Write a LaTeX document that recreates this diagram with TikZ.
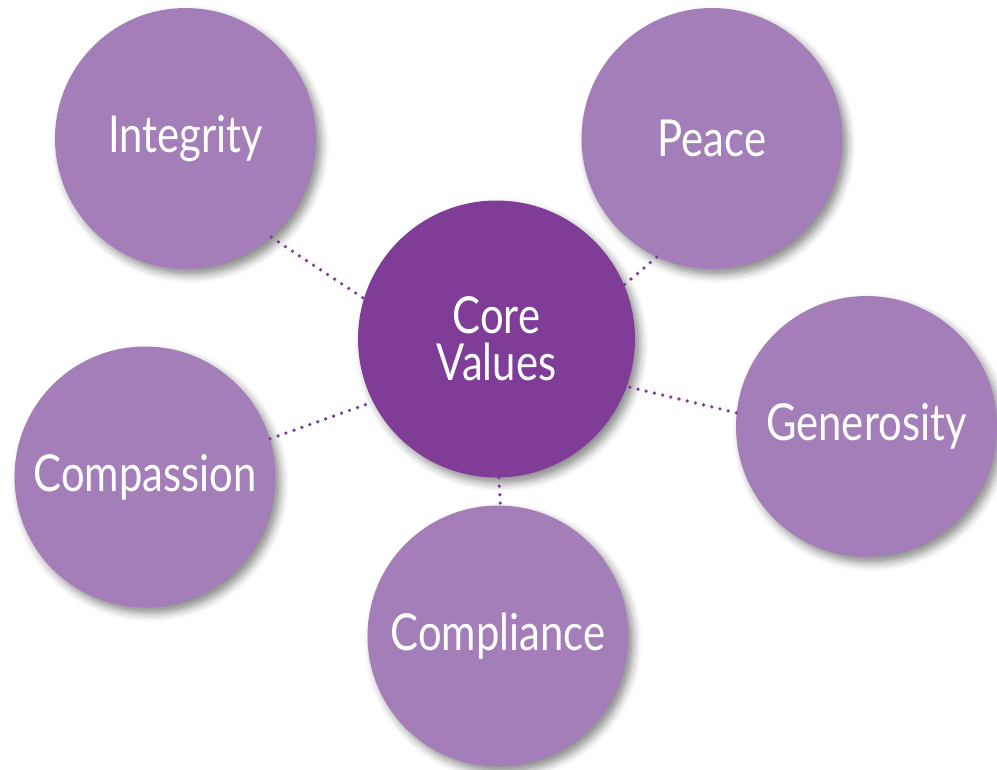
\documentclass[tikz,border=0pt]{standalone}
\usepackage{fontspec}
\setmainfont{Lato}
\usetikzlibrary{shadows.blur}
\definecolor{lightplum}{HTML}{A47EB8}
\definecolor{darkplum}{HTML}{7F3D97}
\newcommand\narrow[1]{\scalebox{0.82}[1]{#1}}

\begin{document}
\begin{tikzpicture}[x=0.02cm, y=-0.02cm,
  value/.style={circle, fill=lightplum, minimum size=5.22cm, inner sep=0pt, text=white,
    font=\fontsize{29}{27}\selectfont,
    blur shadow={shadow xshift=0.1cm, shadow yshift=-0.12cm, shadow blur radius=0.16cm, shadow opacity=45}},
  core/.style={value, fill=darkplum, minimum size=5.54cm, align=center},
  link/.style={darkplum, line width=2.1pt, line cap=round, dash pattern=on 0pt off 4.8pt}]
\useasboundingbox (0,0) rectangle (997,769);
% the five values round the centre
\node[core] (core) at (496.5,339) {\narrow{Core}\\\narrow{Values}};
\node[value] (integrity) at (185.5,138.5) {\narrow{Integrity}};
\node[value] (peace) at (712,138.5) {\narrow{Peace}};
\node[value] (compassion) at (145,477) {\narrow{Compassion}};
\node[value] (generosity) at (866.5,426.5) {\narrow{Generosity}};
\node[value] (compliance) at (498,636) {\narrow{Compliance}};
% dotted links
\draw[link] (integrity.-49) -- (core.163);
\draw[link] (peace.-115) -- (core.23);
\draw[link] (compassion.17) -- (core.207);
\draw[link] (generosity.174) -- (core.-20);
\draw[link] (core.-89) -- (compliance.89);
\end{tikzpicture}
\end{document}
